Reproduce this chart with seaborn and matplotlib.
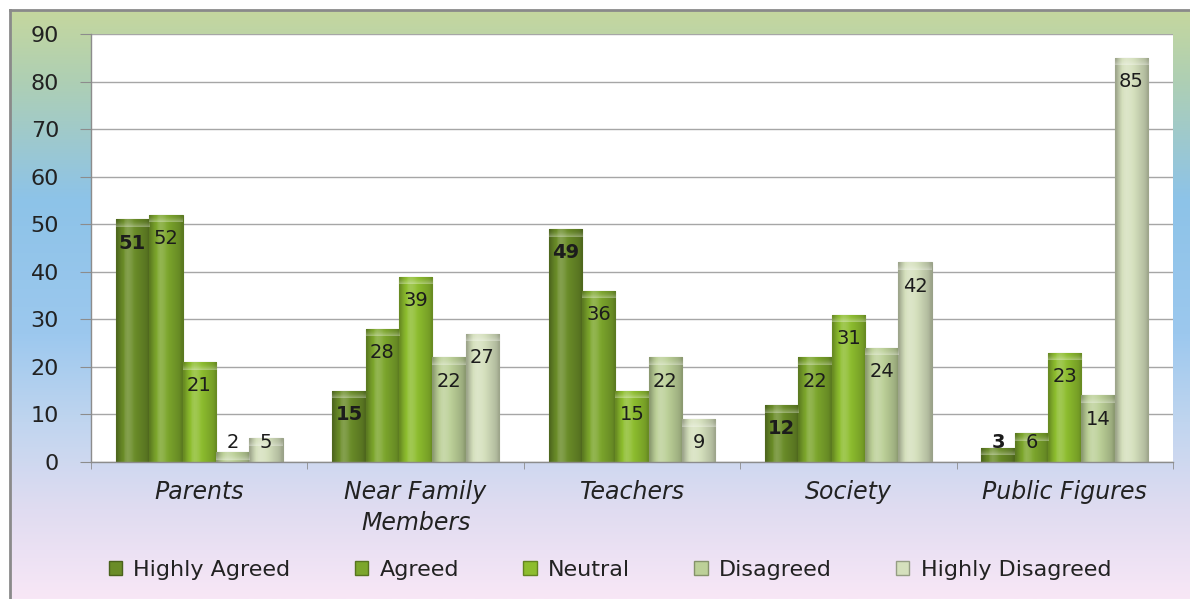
import numpy as np
import pandas as pd
import matplotlib
matplotlib.use("Agg")
import matplotlib.pyplot as plt
import seaborn as sns
from matplotlib.colors import LinearSegmentedColormap, to_rgb
from matplotlib.patches import Patch

# data
categories = ["Parents", "Near Family\nMembers", "Teachers", "Society", "Public Figures"]
series = ["Highly Agreed", "Agreed", "Neutral", "Disagreed", "Highly Disagreed"]
highly_agreed = [51, 15, 49, 12, 3]
agreed = [52, 28, 36, 22, 6]
neutral = [21, 39, 15, 31, 23]
disagreed = [2, 22, 22, 24, 14]
highly_disagreed = [5, 27, 9, 42, 85]
y_ticks = [0, 10, 20, 30, 40, 50, 60, 70, 80, 90]

colors = ["#6a8c28", "#7ca62c", "#8dbd2e", "#bcd098", "#d5e0bd"]

values = [highly_agreed, agreed, neutral, disagreed, highly_disagreed]
df = pd.DataFrame({
    "group": np.repeat(categories, len(series)),
    "level": series * len(categories),
    "value": [values[j][i] for i in range(len(categories)) for j in range(len(series))],
})

sns.set_style("white")
plt.rcParams["font.family"] = ["DejaVu Sans"]

fig = plt.figure(figsize=(11.9, 5.99), dpi=100)

# background gradient of the chart area
bg = fig.add_axes([10 / 1190, 0, 1180 / 1190, 589 / 599], zorder=0)
bg_cmap = LinearSegmentedColormap.from_list("bg", [
    (0.0, "#c5d79e"), (0.12, "#aecfb4"), (0.32, "#8dc3e8"), (0.55, "#9cc8ee"),
    (0.7, "#c0d5ef"), (0.85, "#e0dcf1"), (1.0, "#f8e7f6")])
bg.imshow(np.linspace(0, 1, 256).reshape(-1, 1), cmap=bg_cmap, aspect="auto",
          extent=[0, 1, 0, 1])
bg.set_xticks([])
bg.set_yticks([])
for side in ["right", "bottom"]:
    bg.spines[side].set_visible(False)
for side in ["left", "top"]:
    bg.spines[side].set_color("#8a8a8a")
    bg.spines[side].set_linewidth(2)

ax = fig.add_axes([91 / 1190, (599 - 462) / 599, 1082 / 1190, 428 / 599], zorder=1)
sns.barplot(data=df, x="group", y="value", hue="level", order=categories,
            hue_order=series, palette=colors, width=0.77, gap=0, ax=ax,
            saturation=1, legend=False, zorder=2)

# shade bars with a cylinder-like horizontal gradient and a soft light top
profile = np.array([0.74, 0.84, 0.93, 1.0, 1.05, 1.07, 1.06, 1.04, 1.01, 0.98,
                    0.95, 0.92, 0.89, 0.86, 0.82, 0.74])
bevel = np.zeros((16, 1, 4))
bevel[..., :3] = 1.0
bevel[:, 0, 3] = np.linspace(0.0, 1.0, 16) ** 2 * 0.35
for cont, col in zip(ax.containers, colors):
    base = np.array(to_rgb(col))
    row = []
    for p in profile:
        if p >= 1:
            row.append(base + (1 - base) * (p - 1) * 2.5)
        else:
            row.append(base * p)
    img = np.clip(np.array(row), 0, 1)[None, :, :]
    for bar in cont:
        x0, h, w = bar.get_x(), bar.get_height(), bar.get_width()
        bar.set_edgecolor(tuple(base * 0.72))
        bar.set_linewidth(0.8)
        im = ax.imshow(img, extent=[x0, x0 + w, 0, h], aspect="auto", zorder=2.1,
                       interpolation="bilinear")
        im.set_clip_path(bar)
        top = ax.imshow(bevel, extent=[x0, x0 + w, max(h - 1.6, 0), h], aspect="auto",
                        zorder=2.2, interpolation="bilinear")
        top.set_clip_path(bar)

# value labels near the top of each bar
for j, cont in enumerate(ax.containers):
    for bar, v in zip(cont, values[j]):
        xc = bar.get_x() + bar.get_width() / 2
        ax.text(xc, max(v - 5, 4), str(v), ha="center", va="center", fontsize=14,
                fontweight="bold" if j == 0 else "normal", color="#1c1c1c", zorder=4)

ax.set_xlim(-0.5, len(categories) - 0.5)
ax.set_ylim(0, 90)
ax.set_yticks(y_ticks)
ax.set_facecolor("white")
ax.grid(axis="y", color="#a6a6a6", linewidth=1)
ax.set_axisbelow(True)
ax.set_xlabel("")
ax.set_ylabel("")
for side in ["top", "right"]:
    ax.spines[side].set_visible(False)
for side in ["left", "bottom"]:
    ax.spines[side].set_color("#8c8c8c")
    ax.spines[side].set_linewidth(1)

ax.tick_params(axis="y", direction="out", length=8, color="#8c8c8c", labelsize=16,
               labelcolor="#222222", pad=15, left=True)
ax.tick_params(axis="x", which="major", length=0, labelsize=17, labelcolor="#222222", pad=13)
ax.set_xticks(np.arange(-0.5, len(categories), 1), minor=True)
ax.tick_params(axis="x", which="minor", direction="out", length=5, color="#8c8c8c", bottom=True)
for lbl in ax.get_xticklabels():
    lbl.set_fontstyle("italic")
    lbl.set_linespacing(1.35)

handles = [Patch(facecolor=c, edgecolor=tuple(np.array(to_rgb(c)) * 0.7), label=s)
           for c, s in zip(colors, series)]
fig.legend(handles=handles, loc="center", bbox_to_anchor=(610 / 1190, 1 - 570 / 599),
           ncol=5, frameon=False, fontsize=16, handlelength=0.6, handleheight=0.6,
           handletextpad=0.5, columnspacing=2.9, labelcolor="#222222")

fig.savefig("out.png", dpi=100)
